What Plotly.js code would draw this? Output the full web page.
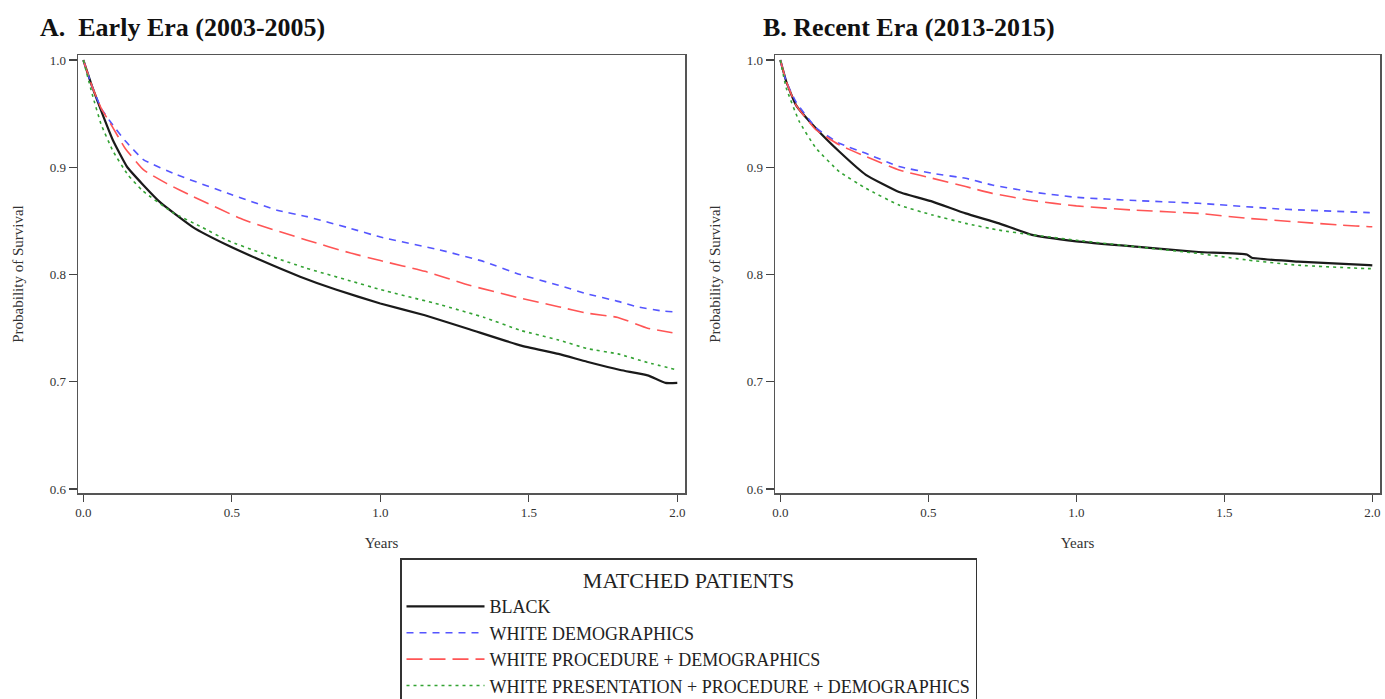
<!DOCTYPE html>
<html>
<head>
<meta charset="utf-8">
<script src="https://cdn.plot.ly/plotly-3.0.1.min.js"></script>
<style>html,body{margin:0;padding:0;background:#fff;}#chart{width:1385px;height:699px;}</style>
</head>
<body>
<div id="chart"></div>
<script>
// ---- Series names ----
var seriesNames = ["BLACK", "WHITE DEMOGRAPHICS", "WHITE PROCEDURE + DEMOGRAPHICS", "WHITE PRESENTATION + PROCEDURE + DEMOGRAPHICS"];
var panelTitles = ["A.\u00a0 Early Era (2003-2005)", "B. Recent Era (2013-2015)"];
var xTickVals = [0, 0.5, 1, 1.5, 2];
var xTickText = ["0.0", "0.5", "1.0", "1.5", "2.0"];
var yTickVals = [0.6, 0.7, 0.8, 0.9, 1.0];
var yTickText = ["0.6", "0.7", "0.8", "0.9", "1.0"];

// ---- Panel A: Early Era ----
var yearsA_black = [0, 0.03, 0.068, 0.1, 0.147, 0.2, 0.26, 0.37, 0.484, 0.596, 0.73, 0.85, 1.0, 1.15, 1.3, 1.471, 1.6, 1.696, 1.808, 1.9, 1.96, 2.0];
var survA_black  = [1.0, 0.975, 0.947, 0.925, 0.9005, 0.884, 0.867, 0.844, 0.8275, 0.8135, 0.798, 0.786, 0.773, 0.762, 0.749, 0.734, 0.726, 0.7187, 0.711, 0.706, 0.699, 0.699];
var yearsA_demo  = [0, 0.03, 0.06, 0.091, 0.14, 0.203, 0.315, 0.484, 0.652, 0.753, 0.9, 1.0, 1.2, 1.35, 1.471, 1.6, 1.696, 1.8, 1.864, 1.95, 2.0];
var survA_demo   = [1.0, 0.975, 0.955, 0.9425, 0.925, 0.907, 0.893, 0.876, 0.86, 0.854, 0.843, 0.835, 0.823, 0.812, 0.80, 0.79, 0.782, 0.775, 0.77, 0.766, 0.765];
var yearsA_proc  = [0, 0.03, 0.06, 0.091, 0.14, 0.203, 0.28, 0.371, 0.54, 0.753, 0.9, 1.0, 1.15, 1.3, 1.471, 1.6, 1.696, 1.8, 1.9, 1.965, 2.0];
var survA_proc   = [1.0, 0.975, 0.955, 0.941, 0.918, 0.8975, 0.885, 0.8725, 0.851, 0.832, 0.82, 0.813, 0.803, 0.79, 0.778, 0.77, 0.764, 0.76, 0.75, 0.7467, 0.745];
var yearsA_pres  = [0, 0.03, 0.06, 0.1, 0.15, 0.2, 0.3, 0.4, 0.484, 0.6, 0.75, 0.9, 1.0, 1.2, 1.35, 1.471, 1.6, 1.696, 1.8, 1.9, 2.0];
var survA_pres   = [1.0, 0.968, 0.94, 0.915, 0.893, 0.878, 0.858, 0.844, 0.832, 0.82, 0.806, 0.794, 0.786, 0.772, 0.76, 0.748, 0.739, 0.731, 0.726, 0.718, 0.711];

// ---- Panel B: Recent Era ----
var yearsB_black = [0, 0.02, 0.053, 0.12, 0.199, 0.289, 0.401, 0.514, 0.626, 0.739, 0.85, 1.0, 1.2, 1.413, 1.576, 1.593, 1.75, 1.99, 2.0];
var survB_black  = [1.0, 0.98, 0.958, 0.9364, 0.9147, 0.893, 0.877, 0.868, 0.857, 0.8477, 0.837, 0.831, 0.826, 0.821, 0.8187, 0.8156, 0.812, 0.8087, 0.8085];
var yearsB_demo  = [0, 0.02, 0.053, 0.12, 0.199, 0.289, 0.401, 0.514, 0.626, 0.716, 0.85, 1.0, 1.2, 1.413, 1.694, 1.99, 2.0];
var survB_demo   = [1.0, 0.98, 0.961, 0.937, 0.9224, 0.913, 0.9007, 0.8944, 0.8897, 0.8835, 0.877, 0.872, 0.869, 0.8664, 0.861, 0.8577, 0.8575];
var yearsB_proc  = [0, 0.02, 0.053, 0.12, 0.199, 0.289, 0.401, 0.514, 0.626, 0.716, 0.85, 1.0, 1.2, 1.413, 1.582, 1.75, 1.9, 1.99, 2.0];
var survB_proc   = [1.0, 0.98, 0.958, 0.935, 0.9209, 0.91, 0.8975, 0.8897, 0.882, 0.8757, 0.869, 0.864, 0.86, 0.857, 0.8523, 0.849, 0.846, 0.8446, 0.8445];
var yearsB_pres  = [0, 0.02, 0.064, 0.12, 0.199, 0.289, 0.401, 0.514, 0.626, 0.739, 0.85, 1.0, 1.2, 1.413, 1.582, 1.75, 1.975, 2.0];
var survB_pres   = [1.0, 0.974, 0.9427, 0.918, 0.896, 0.8804, 0.8648, 0.8555, 0.8477, 0.8414, 0.837, 0.832, 0.826, 0.8196, 0.8134, 0.8087, 0.8056, 0.8055];

var styles = [
  {color: "#1a1a1a", width: 2.2, dash: "solid"},
  {color: "#5555ff", width: 1.6, dash: "7px,6px"},
  {color: "#ff5555", width: 1.6, dash: "16px,7px"},
  {color: "#33a333", width: 1.6, dash: "3px,4px"}
];

var panelA = [[yearsA_black, survA_black], [yearsA_demo, survA_demo], [yearsA_proc, survA_proc], [yearsA_pres, survA_pres]];
var panelB = [[yearsB_black, survB_black], [yearsB_demo, survB_demo], [yearsB_proc, survB_proc], [yearsB_pres, survB_pres]];

var traces = [];
[panelA, panelB].forEach(function(panel, p) {
  panel.forEach(function(s, i) {
    traces.push({
      type: "scatter", mode: "lines",
      x: s[0], y: s[1],
      name: seriesNames[i],
      legendgroup: "g" + i,
      showlegend: p === 0,
      xaxis: p === 0 ? "x" : "x2",
      yaxis: p === 0 ? "y" : "y2",
      line: {color: styles[i].color, width: styles[i].width, dash: styles[i].dash, shape: "spline", smoothing: 0.4},
      hoverinfo: "skip"
    });
  });
});

var serif = "Liberation Serif, Times New Roman, serif";
function xAxis(domain, anchor) {
  return {
    domain: domain, anchor: anchor, range: [-0.018, 2.026],
    tickvals: xTickVals, ticktext: xTickText, ticks: "outside", ticklen: 7, tickwidth: 1.2, tickcolor: "#444",
    showline: true, linecolor: "#555", linewidth: 1.5, mirror: true, showgrid: false, zeroline: false,
    tickfont: {family: serif, size: 13, color: "#333"},
    title: {text: "Years", font: {family: serif, size: 15, color: "#333"}, standoff: 18}
  };
}
function yAxis(domain, anchor) {
  return {
    domain: domain, anchor: anchor, range: [0.5963, 1.0047],
    tickvals: yTickVals, ticktext: yTickText, ticks: "outside", ticklen: 8, tickwidth: 1.2, tickcolor: "#444",
    showline: true, linecolor: "#555", linewidth: 1.5, mirror: true, showgrid: false, zeroline: false,
    tickfont: {family: serif, size: 13, color: "#333"},
    title: {text: "Probability of Survival", font: {family: serif, size: 15, color: "#333"}, standoff: 22}
  };
}
var yDom = [1 - 493/699, 1 - 55/699];

var layout = {
  width: 1385, height: 699,
  margin: {l: 0, r: 0, t: 0, b: 0, autoexpand: false},
  paper_bgcolor: "#fff", plot_bgcolor: "#fff",
  font: {family: serif, color: "#222"},
  xaxis: xAxis([78/1385, 685/1385], "y"),
  yaxis: yAxis(yDom, "x"),
  xaxis2: xAxis([775/1385, 1380/1385], "y2"),
  yaxis2: yAxis(yDom, "x2"),
  showlegend: true,
  legend: {
    x: 400/1385, xanchor: "left", y: 1 - 558/699, yanchor: "top",
    bordercolor: "#333", borderwidth: 1.5, bgcolor: "#fff",
    font: {family: serif, size: 18, color: "#222"},
    title: {text: "MATCHED PATIENTS", side: "top center", font: {family: serif, size: 22, color: "#222"}},
    tracegroupgap: 0, itemwidth: 78
  },
  annotations: [
    {text: "<b>" + panelTitles[0] + "</b>", xref: "paper", yref: "paper", x: 38/1385, y: 1 - 28/699, xanchor: "left", yanchor: "middle", showarrow: false, font: {family: serif, size: 26, color: "#111"}},
    {text: "<b>" + panelTitles[1] + "</b>", xref: "paper", yref: "paper", x: 761/1385, y: 1 - 28/699, xanchor: "left", yanchor: "middle", showarrow: false, font: {family: serif, size: 26, color: "#111"}}
  ]
};

Plotly.newPlot("chart", traces, layout, {displayModeBar: false, staticPlot: true});
</script>
</body>
</html>
